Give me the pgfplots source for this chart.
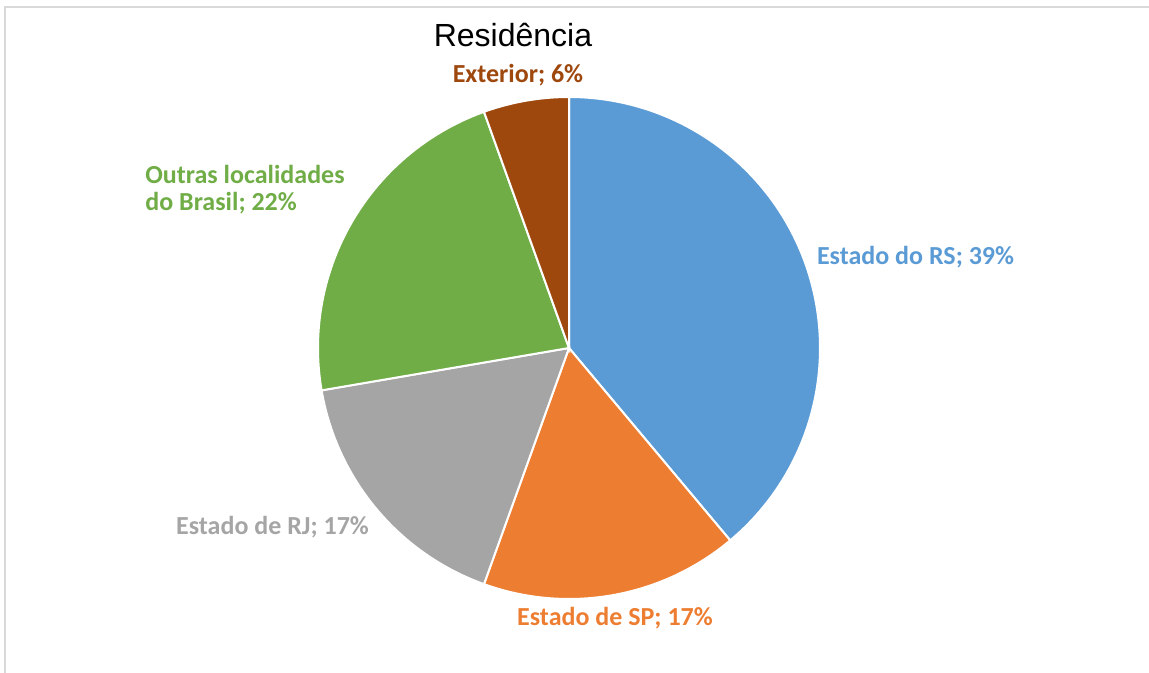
\documentclass[border=0pt]{standalone}
\usepackage{pgfplots}
\pgfplotsset{compat=1.18}
\usepackage{fontspec}
\setmainfont{Carlito}
\newfontfamily\arialfont{Liberation Sans}
\definecolor{rs}{HTML}{5B9BD5}
\definecolor{sp}{HTML}{ED7D31}
\definecolor{rj}{HTML}{A5A5A5}
\definecolor{ou}{HTML}{70AD47}
\definecolor{ex}{HTML}{9E480E}
\definecolor{frame}{HTML}{D9D9D9}
\begin{document}
\begin{tikzpicture}
% shares in percent
\pgfmathsetmacro\vRS{38.9}
\pgfmathsetmacro\vSP{16.6}
\pgfmathsetmacro\vRJ{16.8}
\pgfmathsetmacro\vOU{22.2}
\pgfmathsetmacro\vEX{5.5}
\pgfmathsetmacro\aA{90}
\pgfmathsetmacro\aB{\aA-3.6*\vRS}
\pgfmathsetmacro\aC{\aB-3.6*\vSP}
\pgfmathsetmacro\aD{\aC-3.6*\vRJ}
\pgfmathsetmacro\aE{\aD-3.6*\vOU}
\pgfmathsetmacro\aF{\aE-3.6*\vEX}
\begin{axis}[
  at={(0,0)}, anchor=south west,
  x=0.5pt, y=0.5pt,
  xmin=0, xmax=1149, ymin=0, ymax=673,
  scale only axis, hide axis, clip=false,
]
\draw[frame, line width=1.2pt] (axis cs:5,0) -- (axis cs:5,666) -- (axis cs:1149,666);
\addplot[fill=rs, draw=white, line width=1pt, domain=\aB:\aA, samples=120] ({569+251*cos(x)},{325+251*sin(x)}) -- (axis cs:569,325) -- cycle;
\addplot[fill=sp, draw=white, line width=1pt, domain=\aC:\aB, samples=60] ({569+251*cos(x)},{325+251*sin(x)}) -- (axis cs:569,325) -- cycle;
\addplot[fill=rj, draw=white, line width=1pt, domain=\aD:\aC, samples=60] ({569+251*cos(x)},{325+251*sin(x)}) -- (axis cs:569,325) -- cycle;
\addplot[fill=ou, draw=white, line width=1pt, domain=\aE:\aD, samples=80] ({569+251*cos(x)},{325+251*sin(x)}) -- (axis cs:569,325) -- cycle;
\addplot[fill=ex, draw=white, line width=1pt, domain=\aF:\aE, samples=30] ({569+251*cos(x)},{325+251*sin(x)}) -- (axis cs:569,325) -- cycle;
\node[font=\arialfont\fontsize{16pt}{19pt}\selectfont, text=black] at (axis cs:513,638) {Residência};
\node[font=\bfseries\fontsize{13pt}{13.5pt}\selectfont, text=ex] at (axis cs:518,598) {Exterior; 6\%};
\node[font=\bfseries\fontsize{13pt}{13.5pt}\selectfont, text=ou, align=left, anchor=west, inner sep=0pt] at (axis cs:145,483) {Outras localidades\\do Brasil; 22\%};
\node[font=\bfseries\fontsize{13pt}{13.5pt}\selectfont, text=rs] at (axis cs:915.5,416) {Estado do RS; 39\%};
\node[font=\bfseries\fontsize{13pt}{13.5pt}\selectfont, text=sp] at (axis cs:615,55) {Estado de SP; 17\%};
\node[font=\bfseries\fontsize{13pt}{13.5pt}\selectfont, text=rj] at (axis cs:272.5,146) {Estado de RJ; 17\%};
\end{axis}
\pgfresetboundingbox
\path (0,0) rectangle (574.5pt,336.5pt);
\end{tikzpicture}
\end{document}
